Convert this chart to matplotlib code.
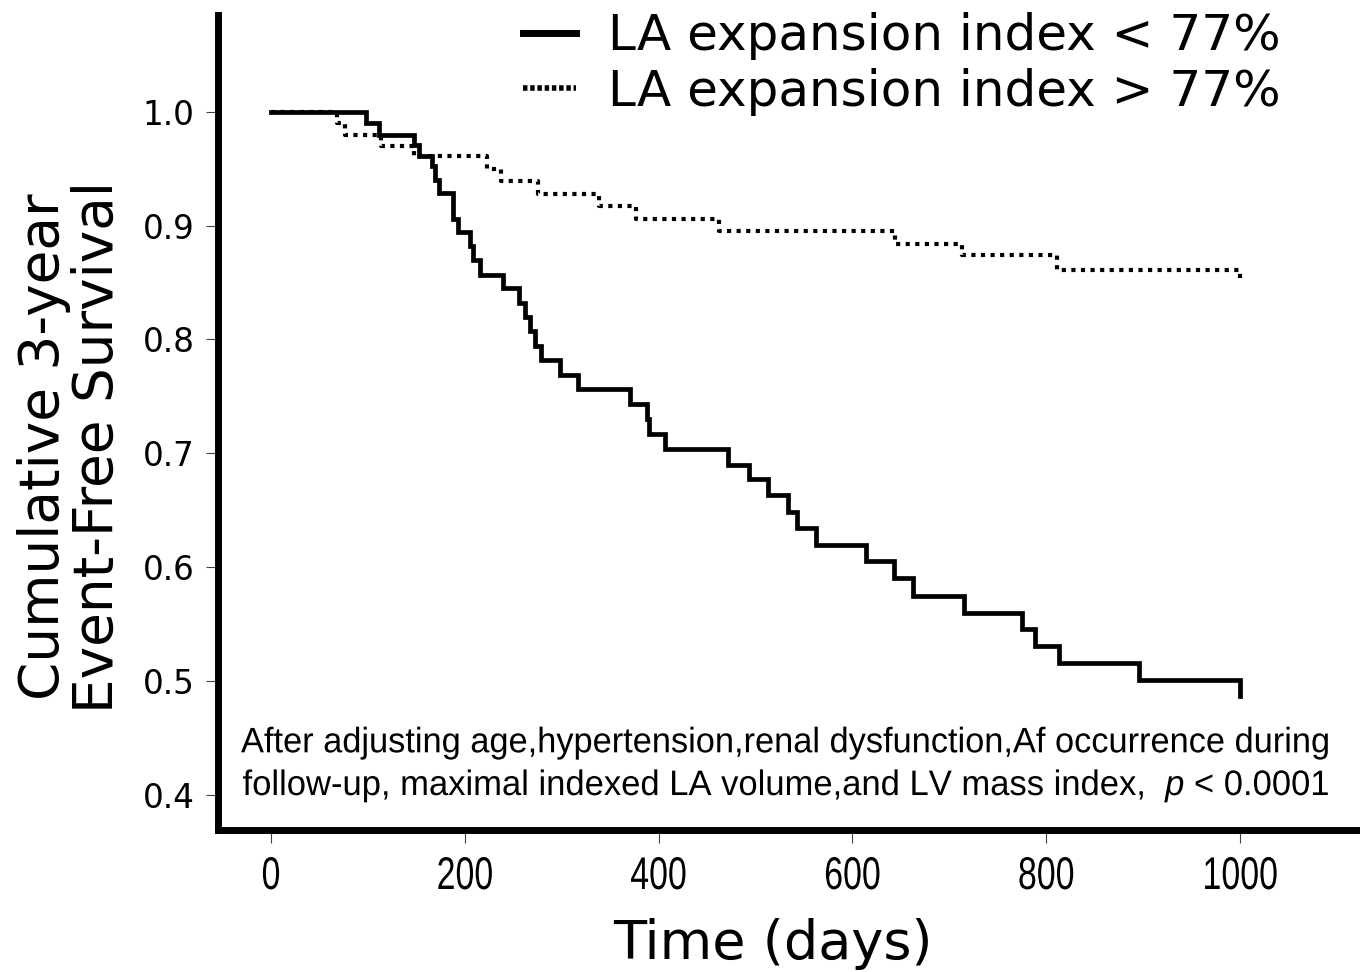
import matplotlib
matplotlib.use("Agg")
import matplotlib.pyplot as plt
from matplotlib.lines import Line2D
from matplotlib.patheffects import AbstractPathEffect
from matplotlib.transforms import Affine2D

# ---- data ----
low_t = [0, 98, 111, 148, 153, 166, 169, 173, 188, 193, 205, 208, 216, 239, 256, 262,
         267, 272, 279, 298, 317, 370, 388, 390, 407, 472, 493, 513, 534, 543, 562,
         614, 643, 663, 715, 775, 788, 813, 896, 1000]
low_s = [1.0, 0.990, 0.980, 0.971, 0.961, 0.952, 0.940, 0.929, 0.906, 0.894, 0.882,
         0.870, 0.857, 0.845, 0.832, 0.820, 0.807, 0.794, 0.782, 0.769, 0.756, 0.743,
         0.730, 0.717, 0.704, 0.690, 0.677, 0.663, 0.648, 0.634, 0.619, 0.605, 0.590,
         0.575, 0.560, 0.546, 0.531, 0.516, 0.501, 0.487]

high_t = [0, 68, 76, 114, 148, 223, 237, 276, 338, 377, 462, 644, 713, 811, 1000]
high_s = [1.0, 0.990, 0.980, 0.970, 0.961, 0.950, 0.939, 0.928, 0.917, 0.906, 0.895,
          0.884, 0.874, 0.861, 0.852]

labels = ["LA expansion index < 77%", "LA expansion index > 77%"]
x_ticks = [0, 200, 400, 600, 800, 1000]
y_ticks = [0.4, 0.5, 0.6, 0.7, 0.8, 0.9, 1.0]
y_tick_labels = ["0.4", "0.5", "0.6", "0.7", "0.8", "0.9", "1.0"]
note_lines = ["After adjusting age,hypertension,renal dysfunction,Af occurrence during",
              "follow-up, maximal indexed LA volume,and LV mass index,  $\\it{p}$ < 0.0001"]

plt.rcParams["mathtext.fontset"] = "custom"
plt.rcParams["mathtext.it"] = "Liberation Sans:italic"
plt.rcParams["mathtext.rm"] = "Liberation Sans"


class Squeeze(AbstractPathEffect):
    """Narrow the glyph outlines horizontally (condensed look), about the text centre."""
    def __init__(self, sx):
        super().__init__()
        self.sx = sx

    def draw_path(self, renderer, gc, tpath, affine, rgbFace=None):
        ext = tpath.get_extents()
        cx = 0.5 * (ext.x0 + ext.x1)
        t = Affine2D().translate(-cx, 0).scale(self.sx, 1.0).translate(cx, 0) + affine
        renderer.draw_path(gc, tpath, t, rgbFace)


fig = plt.figure(figsize=(13.6, 9.72), dpi=100)
ax = fig.add_axes([218/1360, 1-830/972, (1357-218)/1360, (830-15)/972])

ax.step(low_t, low_s, where="post", color="black", lw=3.4, solid_joinstyle="miter")
ax.step(high_t, high_s, where="post", color="black", lw=3.0,
        linestyle=(0, (1.0, 1.3)), dash_capstyle="butt")

ax.set_xlim(-54.7, 1120.7)
ax.set_ylim(0.369, 1.085)

for s in ["top", "right"]:
    ax.spines[s].set_visible(False)
for s in ["left", "bottom"]:
    ax.spines[s].set_linewidth(5.0)
    ax.spines[s].set_capstyle("projecting")

ax.set_xticks(x_ticks)
ax.set_xticklabels([str(v) for v in x_ticks], family="Liberation Sans", fontsize=33)
ax.set_yticks(y_ticks)
ax.set_yticklabels(y_tick_labels, family="DejaVu Sans", fontsize=23.5)
ax.tick_params(axis="both", direction="out", length=9, width=0.8, color="#444444")
ax.tick_params(axis="x", pad=9)
ax.tick_params(axis="y", pad=8)
for lab in ax.get_xticklabels():
    lab.set_path_effects([Squeeze(0.74)])

# legend
h1 = Line2D([], [], color="black", lw=5)
h2 = Line2D([], [], color="black", lw=4, linestyle=(0, (0.8, 0.5)), dash_capstyle="butt")
leg = fig.legend([h1, h2], labels, loc="upper right", bbox_to_anchor=(1301/1360, 1.008),
                 frameon=False, fontsize=36, handlelength=1.05, handletextpad=0.65,
                 labelspacing=0.15, borderaxespad=0)

# annotation (condensed text)
notes = []
for line, yv in zip(note_lines, [0.4456, 0.4079]):
    notes.append(ax.text(531, yv, line, family="Liberation Sans", fontsize=25.5,
                         ha="center", va="center"))
fig.canvas.draw()
target_w = [1089, 1086]
for txt, tw in zip(notes, target_w):
    w = txt.get_window_extent().width
    txt.set_path_effects([Squeeze(min(1.0, tw / w))])

fig.text(71/1360, 1-447/972, "Cumulative 3-year\nEvent-Free Survival", rotation=90,
         ha="center", va="center", fontsize=39.5, family="DejaVu Sans", linespacing=1.0)
fig.text(773/1360, 1-944/972, "Time (days)", ha="center", va="center", fontsize=39,
         family="DejaVu Sans")

fig.savefig("out.png", dpi=100)
